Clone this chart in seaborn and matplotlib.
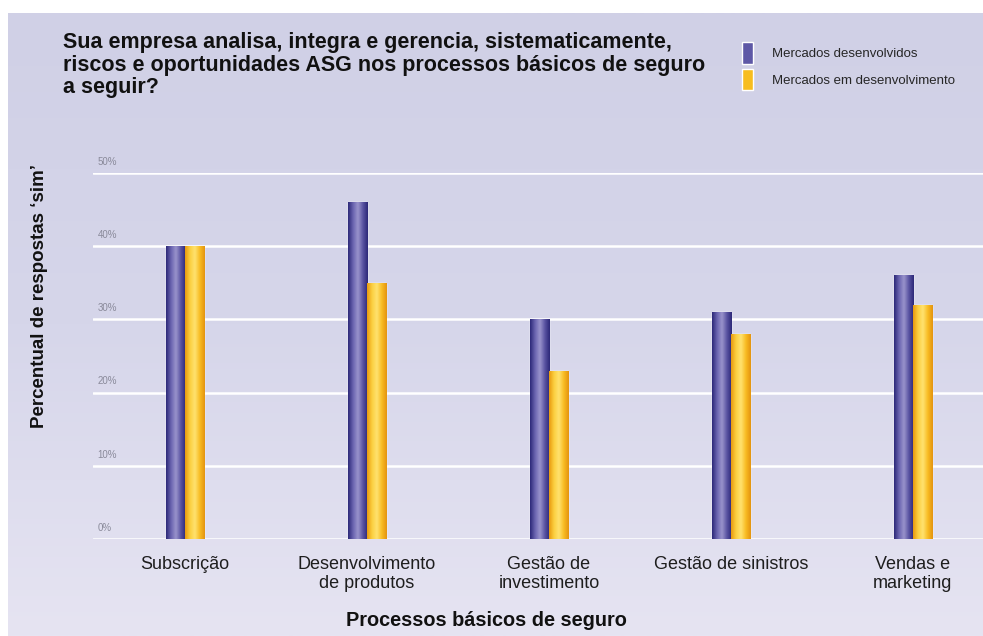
import numpy as np
import pandas as pd
import matplotlib
matplotlib.use("Agg")
import matplotlib.pyplot as plt
import matplotlib.transforms as mtransforms
from matplotlib.colors import LinearSegmentedColormap
import seaborn as sns

categories = ["Subscrição", "Desenvolvimento\nde produtos", "Gestão de\ninvestimento",
              "Gestão de sinistros", "Vendas e\nmarketing"]
series_names = ["Mercados desenvolvidos", "Mercados em desenvolvimento"]
developed = [40, 46, 30, 31, 36]
developing = [40, 35, 23, 28, 32]
ytick_values = [0, 10, 20, 30, 40, 50]
ytick_labels = ["0%", "10%", "20%", "30%", "40%", "50%"]

df = pd.DataFrame({
    "Processo": categories * 2,
    "Mercado": [series_names[0]] * len(categories) + [series_names[1]] * len(categories),
    "Valor": developed + developing,
})

sns.set_theme(style="white")
plt.rcParams["font.family"] = ["Liberation Sans", "DejaVu Sans"]

W, H = 983, 636
fig = plt.figure(figsize=(W / 100, H / 100), dpi=100)
fig.patch.set_facecolor("white")

# background panel with soft vertical gradient
bg = fig.add_axes([8 / W, 0, 1 - 8 / W, 1 - 13 / H])
bg.set_axis_off()
grad = np.linspace(0, 1, 256).reshape(-1, 1)
bg_cmap = LinearSegmentedColormap.from_list("bg", ["#d0d0e6", "#d6d6ea", "#e6e4f2"])
bg.imshow(grad, aspect="auto", cmap=bg_cmap, extent=[0, 1, 0, 1], origin="upper")
bg.set_xlim(0, 1); bg.set_ylim(0, 1)

left, right = 93 / W, 1.0
bottom, top = (H - 539) / H, (H - 173) / H
ax = fig.add_axes([left, bottom, right - left, top - bottom])
ax.patch.set_alpha(0)

palette = {series_names[0]: "#5e58a6", series_names[1]: "#f7bd1f"}
sns.barplot(data=df, x="Processo", y="Valor", hue="Mercado", palette=palette,
            width=0.21, gap=0, ax=ax, legend=True, saturation=1, zorder=3)

ax.set_ylim(0, 50)
ax.set_xlim(-0.505, 4.385)
for v in ytick_values:
    ax.axhline(v, color="white", lw=1.8, zorder=1)
for s in ax.spines.values():
    s.set_visible(False)
ax.set_yticks([])
ax.tick_params(axis="x", length=0, pad=12, labelsize=13, labelcolor="#1e1e1e")
ax.set_xlabel("")
ax.set_ylabel("")

# gradient shading on bars
cm_dev = LinearSegmentedColormap.from_list("dev", ["#2c2878", "#6a64b0", "#9a94cc", "#5a54a2", "#2c2878"])
cm_em = LinearSegmentedColormap.from_list("em", ["#e89a10", "#fcd040", "#ffe270", "#f8bc22", "#e49410"])
hgrad = np.linspace(0, 1, 64).reshape(1, -1)
for i, cont in enumerate(ax.containers):
    cm = cm_dev if i == 0 else cm_em
    for p in cont.patches:
        x0, y0 = p.get_x(), p.get_y()
        w, h = p.get_width(), p.get_height()
        im = ax.imshow(hgrad, cmap=cm, aspect="auto", extent=[x0, x0 + w, y0, y0 + h],
                       zorder=4, interpolation="bicubic")
        im.set_clip_path(p)
ax.set_xlim(-0.505, 4.385)
ax.set_ylim(0, 50)

# y tick labels drawn inside, above gridlines
trans = mtransforms.offset_copy(ax.get_yaxis_transform(), fig=fig, x=0, y=4.5, units="points")
for v, lab in zip(ytick_values, ytick_labels):
    ax.text(0.005, v, lab, transform=trans, fontsize=7, color="#8a8a9a",
            ha="left", va="bottom")

# legend
handles, labels = ax.get_legend_handles_labels()
ax.get_legend().remove()
fig.legend(handles, labels, loc="upper left", bbox_to_anchor=(737 / W, 1 - 37 / H),
           frameon=False, fontsize=9.5, handlelength=0.85, handleheight=2.1,
           labelspacing=0.4, handletextpad=1.4, borderaxespad=0)

# texts
fig.text(63 / W, 1 - 32 / H,
         "Sua empresa analisa, integra e gerencia, sistematicamente,\n"
         "riscos e oportunidades ASG nos processos básicos de seguro\n"
         "a seguir?",
         fontsize=15.5, fontweight="bold", color="#111111", ha="left", va="top",
         linespacing=1.1)
fig.text(40 / W, 1 - 296 / H, "Percentual de respostas \u2018sim\u2019", rotation=90,
         fontsize=13.5, fontweight="bold", color="#111111", ha="center", va="center")
fig.text(486 / W, 1 - 620 / H, "Processos básicos de seguro", fontsize=14.3,
         fontweight="bold", color="#111111", ha="center", va="center")

fig.savefig("out.png", dpi=100)
